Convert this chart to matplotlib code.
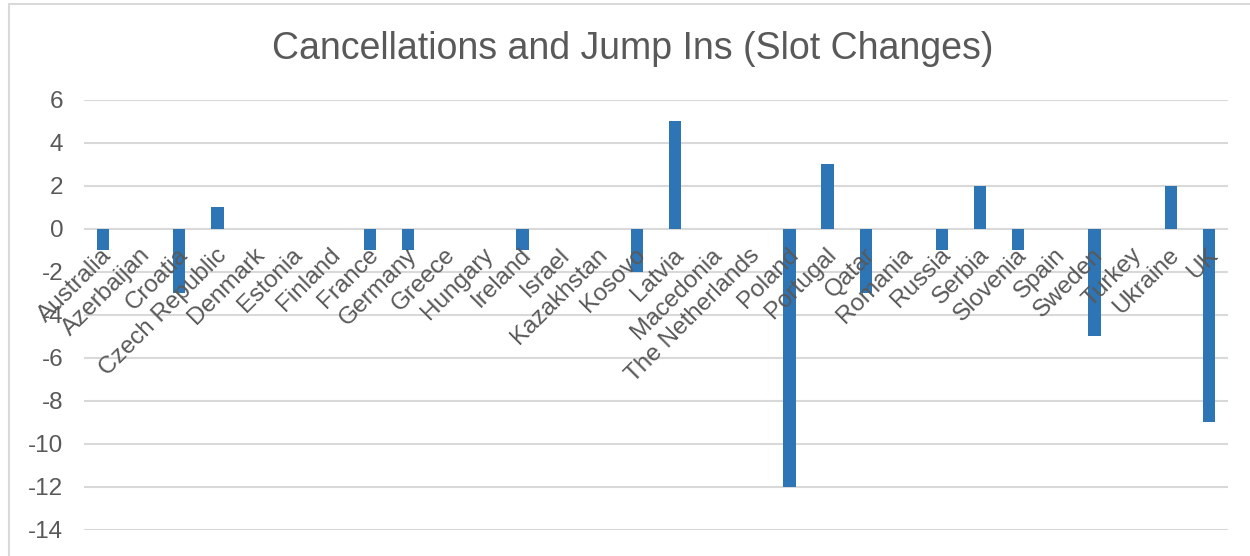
import matplotlib
matplotlib.use("Agg")
import matplotlib.pyplot as plt
from matplotlib.patches import Rectangle

plt.rcParams['font.family'] = ['Liberation Sans', 'DejaVu Sans']

countries = ["Australia", "Azerbaijan", "Croatia", "Czech Republic", "Denmark",
             "Estonia", "Finland", "France", "Germany", "Greece", "Hungary",
             "Ireland", "Israel", "Kazakhstan", "Kosovo", "Latvia", "Macedonia",
             "The Netherlands", "Poland", "Portugal", "Qatar", "Romania",
             "Russia", "Serbia", "Slovenia", "Spain", "Sweden", "Turkey",
             "Ukraine", "UK"]
slot_changes = [-1, 0, -3, 1, 0, 0, 0, -1, -1, 0, 0, -1, 0, 0, -2, 5, 0, 0,
                -12, 3, -3, 0, -1, 2, -1, 0, -5, 0, 2, -9]
y_ticks = [6, 4, 2, 0, -2, -4, -6, -8, -10, -12, -14]

text_grey = "#595959"
grid_grey = "#d9d9d9"
bar_blue = "#2e75b6"

fig = plt.figure(figsize=(12.5, 5.56), dpi=100)
ax = fig.add_axes([84 / 1250, 1 - 530 / 556, (1228 - 84) / 1250, 430 / 556])

# chart frame (cropped on the right and bottom)
fig.patches.append(Rectangle((9 / 1250, -0.1), 1.2, 1 - 4 / 556 + 0.1,
                             transform=fig.transFigure, fill=False,
                             edgecolor=grid_grey, linewidth=1.5))

x = range(len(countries))
ax.bar(x, slot_changes, width=0.32, color=bar_blue, zorder=3)

ax.set_xlim(-0.5, len(countries) - 0.5)
ax.set_ylim(-14, 6)
ax.set_yticks(y_ticks)
ax.set_yticklabels([str(v) for v in y_ticks])
ax.yaxis.grid(True, color=grid_grey, linewidth=1.5, zorder=0)
ax.tick_params(axis='y', length=0, labelsize=17.5, labelcolor=text_grey, pad=15)
ax.set_xticks([])
for s in ax.spines.values():
    s.set_visible(False)

# category labels hang off the zero line
for i, name in enumerate(countries):
    ax.text(i - 0.06, -0.7, name, rotation=45, ha='right', va='top',
            rotation_mode='anchor', fontsize=17.5, color=text_grey, zorder=4)

fig.text(633 / 1250, 1 - 59 / 556, "Cancellations and Jump Ins (Slot Changes)",
         ha='center', va='baseline', fontsize=27, color=text_grey)

fig.savefig("out.png", dpi=100)
